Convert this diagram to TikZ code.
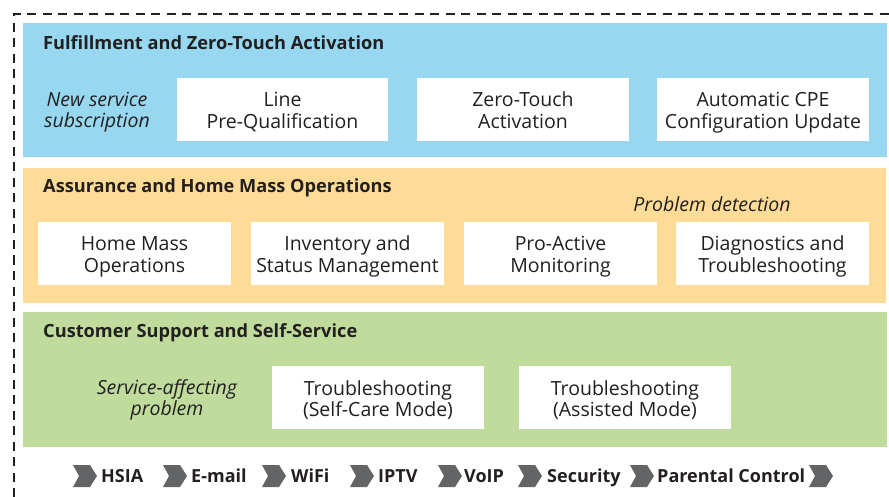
\documentclass[tikz,border=0pt]{standalone}
\usepackage{fontspec}
\setmainfont{Open Sans}
\definecolor{bandblue}{HTML}{97D8F0}
\definecolor{bandorange}{HTML}{FEDC97}
\definecolor{bandgreen}{HTML}{BFDC9C}
\definecolor{inktext}{HTML}{231F20}
\definecolor{chevgray}{HTML}{636466}
\newcommand{\twolines}[2]{\rule{0pt}{21.5pt}#1\\#2\rule[-5pt]{0pt}{5pt}}
\begin{document}
\begin{tikzpicture}[x=1pt,y=-1pt,
  every node/.style={text=inktext, inner sep=0pt},
  whitebox/.style={fill=white, minimum height=63pt, align=center, font=\fontsize{19.5}{21.5}\selectfont},
  bandtitle/.style={anchor=base west, font=\bfseries\fontsize{18.2}{21}\selectfont},
  note/.style={align=center, font=\itshape\fontsize{19.5}{21.5}\selectfont},
  svc/.style={anchor=base west, font=\bfseries\fontsize{18}{21}\selectfont},
  chevron/.pic={\fill[chevgray] (0,-11) -- (17,-11) -- (24,0) -- (17,11) -- (0,11) -- (6,0) -- cycle;}
]
\useasboundingbox (0,0) rectangle (889,497);
\fill[white] (0,0) rectangle (889,497);
% dashed frame
\draw[line width=2pt, dash pattern=on 9pt off 6.5pt, inktext] (14,497) -- (14,14) -- (889,14);
% bands
\fill[bandblue] (23,23) rectangle (887,157);
\fill[bandorange] (23,168) rectangle (886,303);
\fill[bandgreen] (23,312) rectangle (887,447);
% titles
\node[bandtitle] (t1) at (43,50) {Fulfillment and Zero-Touch Activation};
\node[bandtitle] (t2) at (43,193) {Assurance and Home Mass Operations};
\node[bandtitle] (t3) at (43,337) {Customer Support and Self-Service};
% band 1
\node[note] (n1) at (97,112) {New service\\subscription};
\node[whitebox, minimum width=211pt] (lpq) at (282.5,109.5) {\twolines{Line}{Pre-Qualification}};
\node[whitebox, minimum width=212pt] (zta) at (523,109.5) {\twolines{Zero-Touch}{Activation}};
\node[whitebox, minimum width=212pt] (cpe) at (763,109.5) {\twolines{Automatic CPE}{Configuration Update}};
% band 2
\node[note] (n2) at (712,204) {Problem detection};
\node[whitebox, minimum width=193pt] (hmo) at (134.5,253.5) {\twolines{Home Mass}{Operations}};
\node[whitebox, minimum width=193pt] (inv) at (347.5,253.5) {\twolines{Inventory and}{Status Management}};
\node[whitebox, minimum width=193pt] (pam) at (560.5,253.5) {\twolines{Pro-Active}{Monitoring}};
\node[whitebox, minimum width=193pt] (dat) at (772.5,253.5) {\twolines{Diagnostics and}{Troubleshooting}};
% band 3
\node[note] (n3) at (167,400) {Service-affecting\\problem};
\node[whitebox, minimum width=212pt] (tsc) at (378,397.5) {\twolines{Troubleshooting}{(Self-Care Mode)}};
\node[whitebox, minimum width=212pt] (tam) at (625,397.5) {\twolines{Troubleshooting}{(Assisted Mode)}};
% services
\pic at (73,476) {chevron};
\node[svc] (s1) at (101,482) {HSIA};
\pic at (163,476) {chevron};
\node[svc] (s2) at (191,482) {E-mail};
\pic at (262,476) {chevron};
\node[svc] (s3) at (291,482) {WiFi};
\pic at (350,476) {chevron};
\node[svc] (s4) at (378,482) {IPTV};
\pic at (438,476) {chevron};
\node[svc] (s5) at (464,482) {VoIP};
\pic at (518,476) {chevron};
\node[svc] (s6) at (547,482) {Security};
\pic at (630,476) {chevron};
\node[svc] (s7) at (657,482) {Parental Control};
\pic at (809,476) {chevron};
\end{tikzpicture}
\end{document}
